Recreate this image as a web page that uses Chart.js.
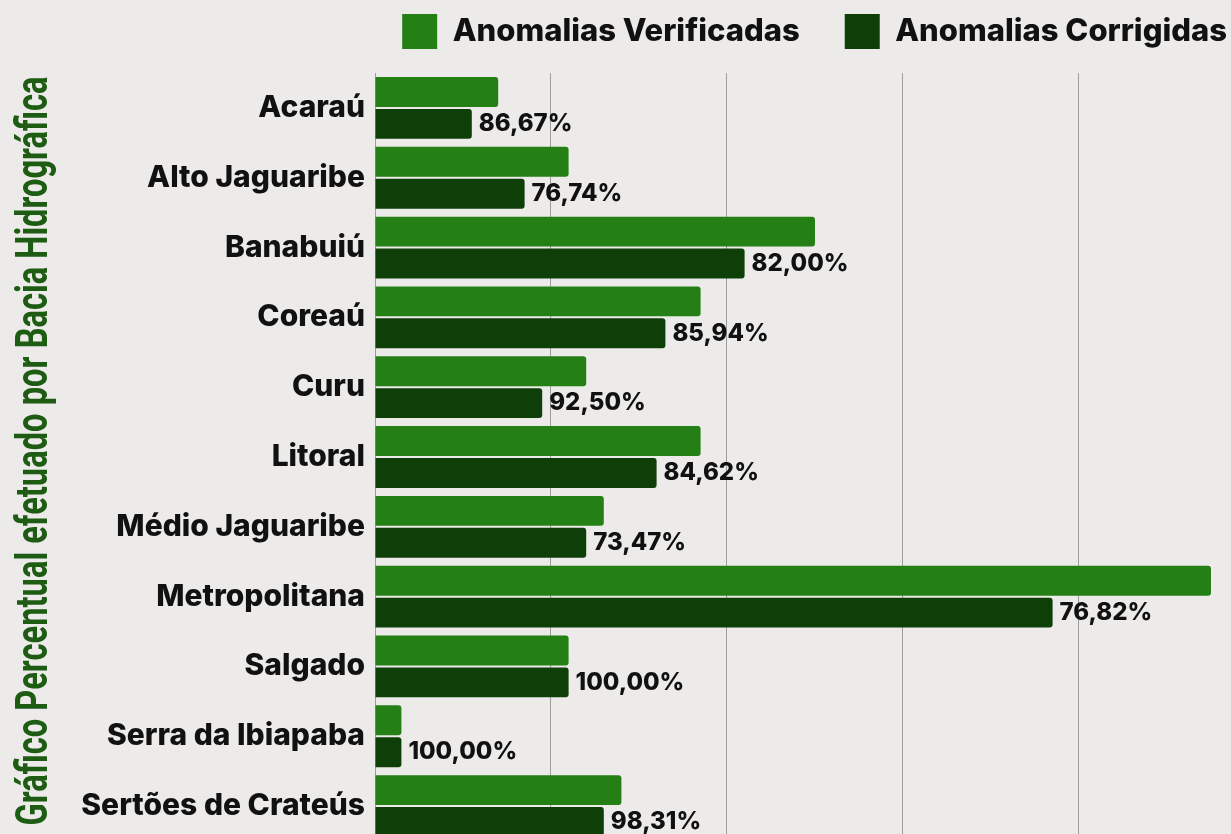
<!DOCTYPE html>
<html>
<head>
<meta charset="utf-8">
<script src="https://cdn.jsdelivr.net/npm/chart.js@4"></script>
<style>
  html, body { margin: 0; padding: 0; background: #ecebe9; overflow: hidden; }
  #box { position: relative; width: 1241px; height: 869px; }
</style>
</head>
<body>
<div id="box"><canvas id="barChart"></canvas></div>
<script>
const bacias = ['Acaraú', 'Alto Jaguaribe', 'Banabuiú', 'Coreaú', 'Curu', 'Litoral',
    'Médio Jaguaribe', 'Metropolitana', 'Salgado', 'Serra da Ibiapaba', 'Sertões de Crateús'];
const verificadas = [14, 22, 50, 37, 24, 37, 26, 95, 22, 3, 28];
const corrigidas  = [11, 17, 42, 33, 19, 32, 24, 77, 22, 3, 26];
const percentuais = ['86,67%', '76,74%', '82,00%', '85,94%', '92,50%', '84,62%',
    '73,47%', '76,82%', '100,00%', '100,00%', '98,31%'];
const gridTicks = [0, 20, 40, 60, 80];
const tituloY = 'Gráfico Percentual efetuado por Bacia Hidrográfica';

const labelFont = "Inter, 'DejaVu Sans', sans-serif";

// writes the percentage right after each "corrigidas" bar
const pctPlugin = {
    id: 'pctLabels',
    afterDatasetsDraw(chart) {
        const ctx = chart.ctx;
        const meta = chart.getDatasetMeta(1);
        ctx.save();
        ctx.font = "800 24px " + labelFont;
        ctx.fillStyle = '#111';
        ctx.textBaseline = 'middle';
        ctx.textAlign = 'left';
        meta.data.forEach((bar, i) => {
            ctx.fillText(percentuais[i], bar.x + 7, bar.y);
        });
        ctx.restore();
    }
};

// vertical axis title, squeezed to look like a condensed face
const yTitlePlugin = {
    id: 'yTitle',
    afterDraw(chart) {
        const ctx = chart.ctx;
        ctx.save();
        ctx.font = "bold 44px Roboto, sans-serif";
        ctx.fillStyle = '#1e5c14';
        ctx.textAlign = 'center';
        ctx.textBaseline = 'alphabetic';
        const w = ctx.measureText(tituloY).width;
        ctx.translate(47, 451);
        ctx.rotate(-Math.PI / 2);
        ctx.scale(749 / w, 1);
        ctx.fillText(tituloY, 0, 0);
        ctx.restore();
    }
};

const ctxEl = document.querySelector('#barChart');
const myChart = new Chart(ctxEl, {
    type: 'bar',
    data: {
        labels: bacias,
        datasets: [
            {
                label: 'Anomalias Verificadas',
                data: verificadas,
                backgroundColor: '#248015',
                borderRadius: 3,
                borderSkipped: 'start',
                categoryPercentage: 0.914,
                barPercentage: 0.9375
            },
            {
                label: 'Anomalias Corrigidas',
                data: corrigidas,
                backgroundColor: '#0f3f08',
                borderRadius: 3,
                borderSkipped: 'start',
                categoryPercentage: 0.914,
                barPercentage: 0.9375
            }
        ]
    },
    options: {
        indexAxis: 'y',
        responsive: true,
        maintainAspectRatio: false,
        animation: false,
        layout: { padding: 0 },
        scales: {
            x: {
                position: 'top',
                min: 0,
                max: 98.41,
                afterBuildTicks: (scale) => {
                    scale.ticks = gridTicks.map(v => ({ value: v }));
                },
                afterFit: (scale) => { scale.height = 14; },
                ticks: { display: false },
                grid: { color: '#9d9d9d', lineWidth: 1, drawTicks: false },
                border: { display: false }
            },
            y: {
                afterFit: (scale) => { scale.width = 375; },
                ticks: {
                    color: '#111',
                    padding: 10,
                    font: { family: labelFont, size: 30, weight: '800' }
                },
                grid: { display: false, drawTicks: false },
                border: { display: true, color: '#9d9d9d', width: 1 }
            }
        },
        plugins: {
            legend: {
                position: 'top',
                align: 'end',
                labels: {
                    color: '#111',
                    boxWidth: 35,
                    boxHeight: 35,
                    padding: 14,
                    font: { family: labelFont, size: 31, weight: '800' },
                    generateLabels: (chart) => {
                        const items = Chart.defaults.plugins.legend.labels.generateLabels(chart);
                        items[0].text = items[0].text + '\u2003';
                        return items;
                    }
                }
            },
            tooltip: { enabled: false }
        }
    },
    plugins: [pctPlugin, yTitlePlugin]
});
</script>
</body>
</html>
